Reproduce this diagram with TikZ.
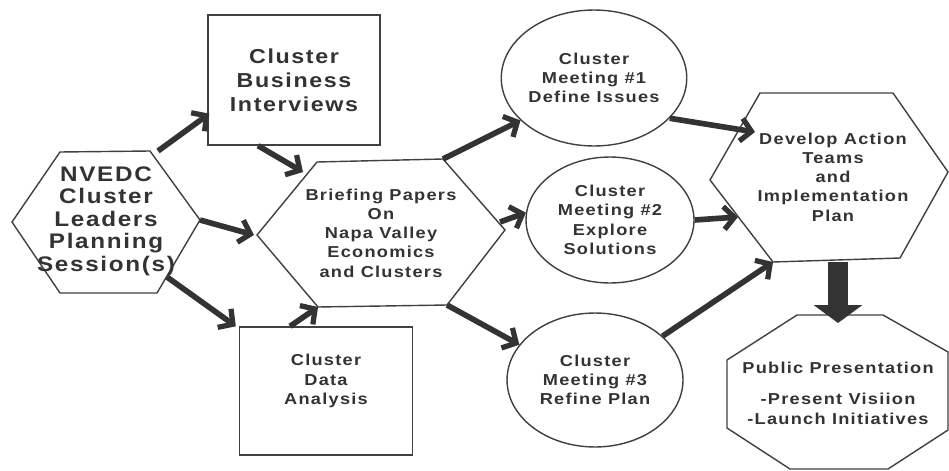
\documentclass[tikz,border=0pt]{standalone}
\usepackage{fontspec}
\setmainfont{Liberation Sans}[FakeStretch=1.15, LetterSpace=8]
\usetikzlibrary{arrows.meta}
\usetikzlibrary{shapes.geometric}

\tikzset{
  outline/.style={draw=black!75, line width=0.8pt},
  labeltext/.style={align=center, text=black!80, font=\bfseries\fontsize{9}{11}\selectfont},
  flow/.style={draw=black!80, line width=3.2pt, -{Straight Barb[length=6pt,width=13pt,line width=3pt]}},
  meeting/.style={outline, ellipse, inner sep=0pt, labeltext},
}

\begin{document}
\begin{tikzpicture}[x=0.02cm, y=-0.02cm]

        \useasboundingbox (0,0) rectangle (949,470);

        % hexagons
        \draw[outline] (12,222) coordinate (nvW) -- (60,152) coordinate (nvNW) -- (150,151) coordinate (nvNE)
          -- (200,220) coordinate (nvE) -- (157,293) coordinate (nvSE) -- (60,293) coordinate (nvSW) -- cycle;
        \node[labeltext, font=\bfseries\fontsize{12}{12.8}\selectfont] (nv) at (106,221) {NVEDC\\Cluster\\Leaders\\Planning\\Session(s)};

        \draw[outline] (257,235) coordinate (brW) -- (317,162) coordinate (brNW) -- (443,159) coordinate (brNE)
          -- (505,230) coordinate (brE) -- (447,305) coordinate (brSE) -- (318,307) coordinate (brSW) -- cycle;
        \node[labeltext] (br) at (381,233) {Briefing Papers\\On\\Napa Valley\\Economics\\and Clusters};

        \draw[outline] (710,180) coordinate (dvW) -- (760,93) coordinate (dvNW) -- (893,93) coordinate (dvNE)
          -- (948,172) coordinate (dvE) -- (900,258) coordinate (dvSE) -- (773,262) coordinate (dvSW) -- cycle;
        \node[labeltext] (dv) at (833,177) {Develop Action\\Teams\\and\\Implementation\\Plan};

        \draw[outline] (797,315) coordinate (ppN) -- (883,315) -- (948,352) -- (948,430) -- (888,469)
          -- (790,469) -- (727,428) -- (727,360) -- cycle;
        \node[labeltext] (pp) at (838,393) {Public Presentation\\[7pt]-Present Visiion\\-Launch Initiatives};

        % boxes
        \node[outline, labeltext, font=\bfseries\fontsize{11.5}{13.6}\selectfont, minimum width=3.44cm, minimum height=2.6cm] (bi) at (294,80) {Cluster\\Business\\Interviews};
        \node[outline, minimum width=3.46cm, minimum height=2.56cm] (da) at (326,391) {};
        \node[labeltext] (dat) at (326,381) {Cluster\\Data\\Analysis};

        % meetings
        \node[meeting, minimum width=3.56cm, minimum height=2.72cm] (m1) at (594,78) {Cluster\\Meeting \#1\\Define Issues};
        \node[meeting, minimum width=3.36cm, minimum height=2.52cm] (m2) at (610,220) {Cluster\\Meeting \#2\\Explore\\Solutions};
        \node[meeting, minimum width=3.52cm, minimum height=2.68cm] (m3) at (595,380) {Cluster\\Meeting \#3\\Refine Plan};

        % arrows
        \draw[flow] ([xshift=0.16cm]nvNE) -- ([xshift=0.04cm,yshift=0.64cm]bi.south west);
        \draw[flow] ([xshift=-0.72cm]bi.south) -- ([xshift=-0.28cm,yshift=-0.2cm]brNW);
        \draw[flow] (nvE) -- ([xshift=-0.06cm]brW);
        \draw[flow] ([xshift=0.2cm,yshift=0.32cm]nvSE) -- ([xshift=-0.06cm]da.north west);
        \draw[flow] ([xshift=-0.72cm]da.north) -- (brSW);
        \draw[flow] (brNE) -- (m1.210);
        \draw[flow] ([xshift=-0.1cm,yshift=0.16cm]brE) -- (m2.175);
        \draw[flow] (brSE) -- (m3.155);
        \draw[flow] (m1.-28) -- ([xshift=0.9cm,yshift=0.96cm]dvW);
        \draw[flow] (m2.east) -- ([xshift=0.56cm,yshift=-0.74cm]dvW);
        \draw[flow] (m3.33) -- (dvSW);
        \draw[draw=black!80, line width=0.4cm, -{Triangle[length=0.36cm,width=0.96cm]}] (dvSW -| pp) -- ([yshift=-0.16cm]ppN -| pp);

      \end{tikzpicture}
\end{document}
